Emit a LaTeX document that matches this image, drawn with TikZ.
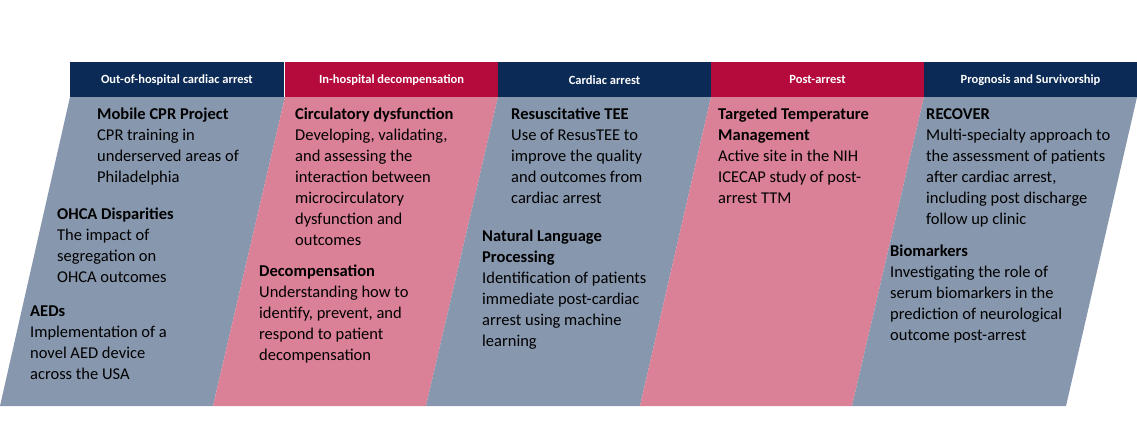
\documentclass[tikz,border=0pt]{standalone}
\usepackage{fontspec}
\setmainfont{Carlito}
\definecolor{navy}{HTML}{0B2A55}
\definecolor{crim}{HTML}{B50A3C}
\definecolor{greyb}{HTML}{8797AD}
\definecolor{pinkp}{HTML}{DA8097}
\begin{document}
\begin{tikzpicture}[x=1pt,y=-1pt,
 hdr/.style={fill=#1,text=white,font=\bfseries\fontsize{12.5}{14}\selectfont,minimum height=35pt,inner sep=0pt,anchor=north west,minimum width=213.4pt},
 txt/.style={anchor=north west,align=left,inner sep=0pt,font=\fontsize{16.5}{21}\selectfont}]
\useasboundingbox (0,0) rectangle (1137,437);
\fill[greyb] (70,97) -- (285,97) -- (213,406) -- (0,406) -- cycle;
\fill[pinkp] (285,97) -- (498,97) -- (426,406) -- (213,406) -- cycle;
\fill[greyb] (498,97) -- (711,97) -- (640,406) -- (426,406) -- cycle;
\fill[pinkp] (711,97) -- (924,97) -- (852,406) -- (640,406) -- cycle;
\fill[greyb] (924,97) -- (1137,97) -- (1066,406) -- (852,406) -- cycle;
\node[hdr=navy] (h1) at (70,62) {Out-of-hospital cardiac arrest};
\node[hdr=crim] (h2) at (284.6,62) {In-hospital decompensation};
\node[hdr=navy] (h3) at (497.6,62) {Cardiac arrest};
\node[hdr=crim] (h4) at (710.6,62) {Post-arrest};
\node[hdr=navy] (h5) at (923.6,62) {Prognosis and Survivorship};
\node[txt] (a1) at (97,108) {\textbf{Mobile CPR Project}\\CPR training in\\underserved areas of\\Philadelphia};
\node[txt] (a2) at (57,208) {\textbf{OHCA Disparities}\\The impact of\\segregation on\\OHCA outcomes};
\node[txt] (a3) at (30,306) {\textbf{AEDs}\\Implementation of a\\novel AED device\\across the USA};
\node[txt] (b1) at (295,108) {\textbf{Circulatory dysfunction}\\Developing, validating,\\and assessing the\\interaction between\\microcirculatory\\dysfunction and\\outcomes};
\node[txt] (b2) at (259,265) {\textbf{Decompensation}\\Understanding how to\\identify, prevent, and\\respond to patient\\decompensation};
\node[txt] (c1) at (511,108) {\textbf{Resuscitative TEE}\\Use of ResusTEE to\\improve the quality\\and outcomes from\\cardiac arrest};
\node[txt] (c2) at (482,230) {\textbf{Natural Language}\\\textbf{Processing}\\Identification of patients\\immediate post-cardiac\\arrest using machine\\learning};
\node[txt] (d1) at (718,108) {\textbf{Targeted Temperature}\\\textbf{Management}\\Active site in the NIH\\ICECAP study of post-\\arrest TTM};
\node[txt] (e1) at (926,108) {\textbf{RECOVER}\\Multi-specialty approach to\\the assessment of patients\\after cardiac arrest,\\including post discharge\\follow up clinic};
\node[txt] (e2) at (890,245) {\textbf{Biomarkers}\\Investigating the role of\\serum biomarkers in the\\prediction of neurological\\outcome post-arrest};
\end{tikzpicture}
\end{document}
